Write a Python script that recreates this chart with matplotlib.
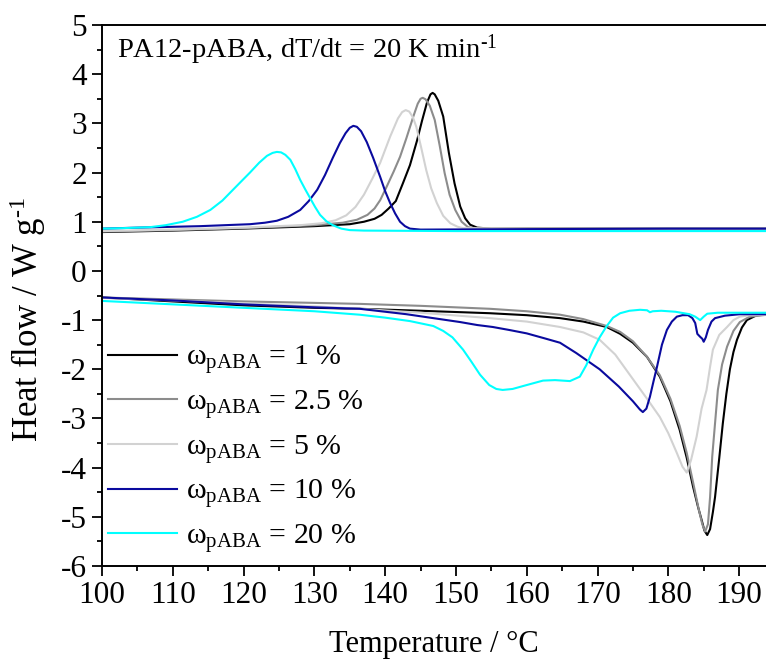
import matplotlib
matplotlib.use("Agg")
import matplotlib.pyplot as plt
from matplotlib.ticker import MultipleLocator

plt.rcParams['font.family'] = ['Liberation Serif', 'DejaVu Serif']
plt.rcParams['mathtext.fontset'] = 'custom'
plt.rcParams['mathtext.rm'] = 'Liberation Serif'
plt.rcParams['mathtext.it'] = 'Liberation Serif:italic'
plt.rcParams['mathtext.bf'] = 'Liberation Serif:bold'
plt.rcParams['axes.unicode_minus'] = False

# ---- data: cooling (upper) curves ----
T_c1 = [100, 110, 120, 130, 135, 137, 138.5, 139.5, 140.5, 141.5, 142.5, 143.5, 144.5, 145.2, 145.9, 146.4,
        146.7, 147.0, 147.5, 148.2, 149, 149.8, 150.6, 151.3, 152, 153, 155, 165, 180, 194]
v_c1 = [0.79, 0.82, 0.86, 0.91, 0.95, 1.0, 1.06, 1.14, 1.27, 1.42, 1.78, 2.15, 2.65, 3.05, 3.42, 3.59,
        3.62, 3.59, 3.46, 3.14, 2.4, 1.78, 1.31, 1.07, 0.94, 0.88, 0.86, 0.86, 0.86, 0.86]

T_c2 = [100, 110, 120, 130, 134, 136, 137.5, 138.5, 139.3, 140.2, 141.2, 142.1, 143, 144, 144.6, 145.0,
        145.3, 145.7, 146.3, 147, 147.7, 148.4, 149.1, 149.9, 150.8, 151.7, 153, 165, 180, 194]
v_c2 = [0.8, 0.83, 0.87, 0.93, 0.98, 1.04, 1.14, 1.27, 1.44, 1.71, 2.02, 2.32, 2.7, 3.15, 3.4, 3.5,
        3.52, 3.49, 3.36, 3.07, 2.55, 1.99, 1.55, 1.24, 1.0, 0.89, 0.86, 0.86, 0.86, 0.86]

T_c5 = [100, 110, 120, 128, 131, 133, 134.5, 135.8, 137, 138.2, 139.3, 140.7, 141.8, 142.4, 142.9, 143.4,
        143.9, 144.4, 145.1, 145.8, 146.5, 147.3, 148.2, 149.2, 150.2, 151, 160, 180, 194]
v_c5 = [0.81, 0.84, 0.88, 0.93, 0.97, 1.03, 1.13, 1.3, 1.55, 1.88, 2.2, 2.73, 3.1, 3.23, 3.27, 3.24,
        3.13, 2.93, 2.5, 2.05, 1.68, 1.38, 1.12, 0.97, 0.9, 0.87, 0.86, 0.86, 0.86]

T_c10 = [100, 105, 113.8, 120.9, 123, 124.7, 126.3, 128, 129.2, 130.4, 131.5, 132.6, 133.6, 134.4, 135.0,
         135.5, 136.0, 136.6, 137.4, 138.3, 139.3, 140, 140.7, 141.4, 142.1, 142.8, 143.5, 145, 160, 180, 194]
v_c10 = [0.86, 0.88, 0.91, 0.95, 0.98, 1.02, 1.1, 1.24, 1.42, 1.65, 1.95, 2.3, 2.6, 2.8, 2.91,
         2.95, 2.93, 2.84, 2.62, 2.3, 1.91, 1.62, 1.38, 1.17, 1.0, 0.91, 0.86, 0.84, 0.85, 0.86, 0.86]

T_c20 = [100, 103, 106.8, 109, 111.4, 113.4, 115.3, 117, 118.5, 119.8, 120.9, 122.2, 123.3, 124.1, 124.7,
         125.3, 125.9, 126.6, 127.3, 128, 128.7, 129.4, 130.1, 130.8, 131.7, 132.6, 133.8, 135, 137, 150, 170, 194]
v_c20 = [0.86, 0.87, 0.89, 0.93, 1.0, 1.1, 1.24, 1.43, 1.65, 1.84, 2.0, 2.2, 2.34, 2.4, 2.42,
         2.41, 2.36, 2.26, 2.07, 1.85, 1.66, 1.48, 1.3, 1.14, 1.01, 0.93, 0.86, 0.83, 0.82, 0.81, 0.81, 0.81]

# ---- data: heating (lower) curves ----
T_h1 = [100, 110, 120, 130, 136.4, 145, 154.8, 160, 164.7, 168, 171.3, 173.2, 175, 177, 178.8, 180.3,
        181.6, 182.6, 183.5, 184.2, 184.7, 185.1, 185.5, 185.9, 186.3, 186.6, 187.2, 187.7, 188.2, 188.7,
        189.2, 189.7, 190.4, 191.1, 192.5, 194]
v_h1 = [-0.54, -0.62, -0.7, -0.75, -0.77, -0.81, -0.86, -0.9, -0.96, -1.03, -1.14, -1.28, -1.46, -1.75,
        -2.15, -2.65, -3.23, -3.8, -4.39, -4.8, -5.06, -5.28, -5.37, -5.25, -4.9, -4.6, -3.8, -3.1, -2.5,
        -2.0, -1.65, -1.4, -1.15, -1.0, -0.9, -0.89]

T_h2 = [100, 110, 120, 130, 136.4, 145, 154.8, 160, 164.7, 168, 171.3, 173.2, 175, 177, 178.8, 180.3,
        181.6, 182.6, 183.5, 184.3, 184.8, 185.2, 185.6, 185.9, 186.2, 187, 187.6, 188.3, 189.2, 190.1,
        191.5, 194]
v_h2 = [-0.54, -0.58, -0.62, -0.65, -0.67, -0.71, -0.77, -0.82, -0.89, -0.98, -1.12, -1.24, -1.43, -1.75,
        -2.12, -2.6, -3.15, -3.7, -4.3, -4.85, -5.15, -5.3, -5.15, -4.6, -3.78, -2.42, -1.9, -1.54, -1.22,
        -1.04, -0.93, -0.89]

T_h5 = [100, 110, 120, 130, 136.4, 145, 154.8, 160, 164.7, 168, 170.3, 172.5, 175, 177, 178.8, 180, 181.2,
        182, 182.6, 183.2, 184, 184.7, 185.4, 185.9, 186.3, 187.2, 188.3, 189.2, 190.1, 191.5, 194]
v_h5 = [-0.55, -0.6, -0.66, -0.72, -0.77, -0.85, -0.96, -1.03, -1.14, -1.25, -1.4, -1.7, -2.2, -2.6, -2.97,
        -3.3, -3.7, -3.98, -4.1, -3.85, -3.37, -2.8, -2.42, -1.95, -1.6, -1.3, -1.14, -1.0, -0.93, -0.9, -0.89]

T_h10 = [100, 110, 120, 130, 136.4, 143, 150.6, 153, 155.2, 157.5, 160, 162.5, 164.7, 167, 170.3, 173, 175,
         176, 176.4, 176.9, 177.4, 177.9, 178.4, 179.1, 179.8, 180.5, 181.2, 182, 182.8, 183.4, 183.8,
         184.1, 184.5, 184.8, 185, 185.3, 185.6, 186.1, 186.6, 188, 190.1, 194]
v_h10 = [-0.54, -0.6, -0.68, -0.74, -0.77, -0.88, -1.04, -1.1, -1.14, -1.2, -1.27, -1.37, -1.46, -1.67,
         -2.0, -2.35, -2.65, -2.82, -2.87, -2.8, -2.56, -2.25, -1.95, -1.5, -1.2, -1.03, -0.93, -0.9, -0.9,
         -0.96, -1.06, -1.28, -1.34, -1.38, -1.44, -1.35, -1.2, -1.03, -0.96, -0.91, -0.88, -0.88]

T_h20 = [100, 110, 120, 130, 136.4, 140, 143.5, 146.8, 148.2, 149.5, 151, 152.2, 153.4, 154.7, 155.7, 156.6,
         158, 160, 162.3, 164, 166.1, 167.5, 168.4, 169.4, 170.3, 171.3, 172.2, 173.2, 174.5, 176, 177,
         177.4, 177.8, 179, 181, 183, 183.8, 184.5, 185, 185.5, 187, 194]
v_h20 = [-0.61, -0.68, -0.75, -0.82, -0.89, -0.95, -1.02, -1.12, -1.22, -1.35, -1.6, -1.85, -2.11, -2.32,
         -2.4, -2.42, -2.4, -2.32, -2.23, -2.22, -2.24, -2.15, -1.92, -1.6, -1.35, -1.12, -0.95, -0.86,
         -0.81, -0.79, -0.8, -0.84, -0.82, -0.81, -0.83, -0.88, -0.93, -1.0, -0.93, -0.87, -0.85, -0.85]

labels = ['1', '2.5', '5', '10', '20']
colors = ['#000000', '#8c8c8c', '#d2d2d2', '#0a0a9e', '#00ffff']
cooling = [(T_c1, v_c1), (T_c2, v_c2), (T_c5, v_c5), (T_c10, v_c10), (T_c20, v_c20)]
heating = [(T_h1, v_h1), (T_h2, v_h2), (T_h5, v_h5), (T_h10, v_h10), (T_h20, v_h20)]

fig = plt.figure(figsize=(7.66, 6.6), dpi=100)
ax = fig.add_axes([0.1332, 0.1424, 0.8668, 0.8197])

for (Tc, vc), (Th, vh), lab, col in zip(cooling, heating, labels, colors):
    ax.plot(Tc, vc, color=col, lw=1.5)
    ax.plot(Th, vh, color=col, lw=1.5,
            label=r'ω$_{\mathrm{pABA}}$ = ' + lab + ' %')

ax.set_xlim(100, 193.8)
ax.set_ylim(-6, 5)
ax.xaxis.set_major_locator(MultipleLocator(10))
ax.xaxis.set_minor_locator(MultipleLocator(5))
ax.yaxis.set_major_locator(MultipleLocator(1))
ax.yaxis.set_minor_locator(MultipleLocator(0.5))
ax.tick_params(which='both', direction='out', top=False, right=False, width=1.3, labelsize=22.5)
ax.tick_params(which='major', length=7, pad=4)
ax.tick_params(which='minor', length=3.6)
ax.spines['right'].set_visible(False)
for s in ['left', 'bottom', 'top']:
    ax.spines[s].set_linewidth(1.4)

ax.set_xlabel('Temperature / °C', fontsize=22, labelpad=14)
ax.set_ylabel('Heat flow / W g$^{\\mathrm{\u2010}1}$', fontsize=25, labelpad=4)
ax.yaxis.set_label_coords(-0.082, 0.455)

ax.text(0.022, 0.955, 'PA12-pABA, dT/dt = 20 K min$^{\\mathrm{\u2010}1}$', transform=ax.transAxes,
        fontsize=20.5, va='center', ha='left')

ax.legend(loc='upper left', bbox_to_anchor=(0.005, 0.417), frameon=False, fontsize=21.5,
          handlelength=2.3, handletextpad=0.3, labelspacing=0.39, borderpad=0.1, borderaxespad=0.0)

fig.savefig('out.png', dpi=100)
